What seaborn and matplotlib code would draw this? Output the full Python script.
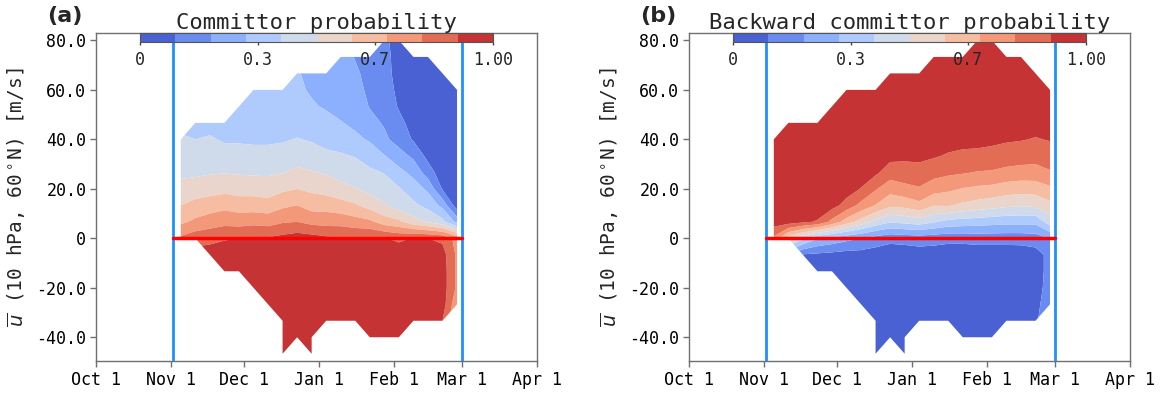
import numpy as np
import matplotlib
matplotlib.use("Agg")
import matplotlib.pyplot as plt
import seaborn as sns

# ---------------- data ----------------
# grid: days since Oct 1, zonal wind levels (m/s)
days = [35, 41, 47, 53, 59, 65, 71, 77, 83, 89, 95, 101, 107, 113, 119, 125, 131, 137, 143, 149]
u_levels = [-46.67, -40.0, -33.33, -26.67, -20.0, -13.33, -6.67, 0.0, 6.67, 13.33,
            20.0, 26.67, 33.33, 40.0, 46.67, 53.33, 60.0, 66.67, 73.33, 80.0]
# lowest sampled u level in each day column (values listed upward from it)
lowest_u = [0.0, 0.0, -6.67, -13.33, -13.33, -20.0, -26.67, -46.67, -40.0, -46.67,
            -33.33, -33.33, -33.33, -40.0, -40.0, -40.0, -33.33, -33.33, -33.33, -26.67]

# forward committor, one list per day column (bottom -> top)
forward_cols = [
    [0.82, 0.68, 0.60, 0.53, 0.48, 0.44, 0.41],
    [0.86, 0.72, 0.63, 0.55, 0.48, 0.43, 0.40, 0.37],
    [0.95, 0.87, 0.75, 0.65, 0.56, 0.49, 0.44, 0.41, 0.37],
    [0.98, 0.96, 0.89, 0.77, 0.67, 0.57, 0.495, 0.435, 0.39, 0.36],
    [0.98, 0.96, 0.90, 0.76, 0.65, 0.56, 0.49, 0.43, 0.39, 0.365, 0.35],
    [0.98, 0.98, 0.96, 0.91, 0.77, 0.65, 0.56, 0.485, 0.43, 0.385, 0.36, 0.345, 0.33],
    [0.99, 0.98, 0.98, 0.965, 0.91, 0.76, 0.64, 0.55, 0.485, 0.43, 0.385, 0.355, 0.335, 0.32],
    [0.99, 0.99, 0.99, 0.99, 0.98, 0.98, 0.97, 0.93, 0.79, 0.68, 0.58, 0.495, 0.44, 0.39, 0.355, 0.33, 0.315],
    [0.99, 0.99, 0.99, 0.98, 0.98, 0.975, 0.95, 0.80, 0.70, 0.60, 0.52, 0.46, 0.405, 0.36, 0.33, 0.315, 0.305],
    [0.99, 0.99, 0.99, 0.99, 0.98, 0.98, 0.97, 0.94, 0.77, 0.66, 0.58, 0.505, 0.45, 0.39, 0.35, 0.31, 0.29, 0.285],
    [0.99, 0.99, 0.98, 0.98, 0.97, 0.92, 0.76, 0.66, 0.56, 0.49, 0.42, 0.37, 0.33, 0.29, 0.27, 0.26],
    [0.99, 0.99, 0.98, 0.98, 0.97, 0.91, 0.76, 0.64, 0.53, 0.46, 0.41, 0.36, 0.305, 0.27, 0.26, 0.25, 0.24],
    [0.99, 0.99, 0.98, 0.98, 0.97, 0.90, 0.74, 0.61, 0.505, 0.45, 0.395, 0.32, 0.28, 0.25, 0.23, 0.215, 0.195],
    [0.99, 0.99, 0.99, 0.98, 0.98, 0.96, 0.91, 0.72, 0.56, 0.47, 0.42, 0.35, 0.29, 0.23, 0.195, 0.18, 0.17, 0.16],
    [0.99, 0.99, 0.99, 0.98, 0.98, 0.96, 0.905, 0.65, 0.51, 0.44, 0.395, 0.305, 0.22, 0.19, 0.17, 0.16, 0.15, 0.14, 0.13],
    [0.99, 0.99, 0.99, 0.98, 0.98, 0.96, 0.88, 0.62, 0.45, 0.41, 0.33, 0.24, 0.16, 0.13, 0.09, 0.07, 0.05, 0.05, 0.04],
    [0.99, 0.98, 0.98, 0.97, 0.96, 0.905, 0.54, 0.42, 0.35, 0.27, 0.18, 0.09, 0.06, 0.04, 0.03, 0.02, 0.02],
    [0.98, 0.98, 0.97, 0.97, 0.96, 0.90, 0.49, 0.37, 0.28, 0.15, 0.07, 0.05, 0.04, 0.03, 0.02, 0.02, 0.02],
    [0.90, 0.95, 0.95, 0.95, 0.94, 0.88, 0.43, 0.27, 0.09, 0.04, 0.03, 0.02, 0.02, 0.02, 0.02, 0.02],
    [0.72, 0.78, 0.78, 0.78, 0.76, 0.27, 0.04, 0.03, 0.02, 0.02, 0.02, 0.02, 0.02, 0.02],
]

# backward committor, one list per day column (bottom -> top)
backward_cols = [
    [0.78, 0.95, 0.98, 0.99, 0.99, 0.99, 0.99],
    [0.55, 0.95, 0.98, 0.99, 0.99, 0.99, 0.99, 0.99],
    [0.09, 0.42, 0.92, 0.97, 0.99, 0.99, 0.99, 0.99, 0.99],
    [0.03, 0.08, 0.31, 0.89, 0.97, 0.99, 0.99, 0.99, 0.99, 0.99],
    [0.03, 0.07, 0.27, 0.77, 0.94, 0.98, 0.99, 0.99, 0.99, 0.99, 0.99],
    [0.02, 0.03, 0.06, 0.23, 0.65, 0.86, 0.95, 0.98, 0.99, 0.99, 0.99, 0.99, 0.99],
    [0.02, 0.02, 0.03, 0.06, 0.20, 0.56, 0.77, 0.895, 0.96, 0.98, 0.99, 0.99, 0.99, 0.99],
    [0.02, 0.02, 0.02, 0.02, 0.02, 0.03, 0.05, 0.16, 0.47, 0.695, 0.81, 0.92, 0.97, 0.98, 0.99, 0.99, 0.99],
    [0.02, 0.02, 0.02, 0.02, 0.03, 0.04, 0.13, 0.41, 0.62, 0.74, 0.85, 0.93, 0.97, 0.98, 0.99, 0.99, 0.99],
    [0.02, 0.02, 0.02, 0.02, 0.02, 0.03, 0.04, 0.14, 0.43, 0.63, 0.77, 0.86, 0.92, 0.96, 0.98, 0.99, 0.99, 0.99],
    [0.02, 0.02, 0.02, 0.03, 0.05, 0.15, 0.45, 0.67, 0.79, 0.87, 0.92, 0.96, 0.98, 0.99, 0.99, 0.99],
    [0.02, 0.02, 0.02, 0.03, 0.05, 0.14, 0.41, 0.605, 0.74, 0.84, 0.91, 0.95, 0.97, 0.98, 0.99, 0.99, 0.99],
    [0.02, 0.02, 0.02, 0.03, 0.04, 0.13, 0.37, 0.61, 0.72, 0.82, 0.89, 0.94, 0.97, 0.98, 0.99, 0.99, 0.99],
    [0.02, 0.02, 0.02, 0.02, 0.03, 0.04, 0.13, 0.36, 0.58, 0.695, 0.81, 0.88, 0.93, 0.96, 0.98, 0.99, 0.99, 0.99],
    [0.02, 0.02, 0.02, 0.02, 0.03, 0.04, 0.14, 0.35, 0.56, 0.68, 0.795, 0.875, 0.93, 0.96, 0.98, 0.99, 0.99, 0.99, 0.99],
    [0.02, 0.02, 0.02, 0.02, 0.03, 0.04, 0.14, 0.34, 0.54, 0.67, 0.79, 0.87, 0.92, 0.95, 0.97, 0.98, 0.99, 0.99, 0.99],
    [0.02, 0.02, 0.02, 0.03, 0.04, 0.14, 0.33, 0.52, 0.65, 0.77, 0.86, 0.91, 0.95, 0.97, 0.98, 0.99, 0.99],
    [0.03, 0.03, 0.03, 0.03, 0.045, 0.14, 0.33, 0.51, 0.64, 0.76, 0.85, 0.905, 0.94, 0.96, 0.98, 0.99, 0.99],
    [0.08, 0.06, 0.06, 0.06, 0.06, 0.15, 0.33, 0.52, 0.645, 0.76, 0.84, 0.895, 0.93, 0.96, 0.98, 0.99],
    [0.18, 0.14, 0.13, 0.13, 0.205, 0.45, 0.57, 0.68, 0.79, 0.86, 0.905, 0.94, 0.96, 0.97],
]

month_ticks = [0, 31, 61, 92, 123, 151, 182]
month_labels = ["Oct 1", "Nov 1", "Dec 1", "Jan 1", "Feb 1", "Mar 1", "Apr 1"]
u_ticks = [-40, -20, 0, 20, 40, 60, 80]
u_tick_labels = ["-40.0", "-20.0", "0", "20.0", "40.0", "60.0", "80.0"]
cbar_ticks = [0, 1 / 3, 2 / 3, 1]
cbar_labels = ["0", "0.3", "0.7", "1.00"]
titles = ["Committor probability", "Backward committor probability"]
panel_tags = ["(a)", "(b)"]
season_start, season_end = 31.7, 151.0

# ---------------- style ----------------
sns.set_theme(style="white")
plt.rcParams["font.family"] = ["DejaVu Sans Mono"]
plt.rcParams["mathtext.fontset"] = "dejavusans"


def build_field(cols):
    ul = np.array(u_levels)
    Z = np.full((len(u_levels), len(days)), np.nan)
    for k, (lo, col) in enumerate(zip(lowest_u, cols)):
        j0 = int(np.argmin(np.abs(ul - lo)))
        Z[j0:j0 + len(col), k] = col
    return np.ma.masked_invalid(Z)


fig = plt.figure(figsize=(11.63, 3.96), dpi=100)
axes_pos = [[96 / 1163, 35 / 396, 441 / 1163, 328 / 396],
            [689 / 1163, 35 / 396, 441 / 1163, 328 / 396]]
levels = np.linspace(0, 1, 11)
spine_col = "#707070"

for i, cols in enumerate([forward_cols, backward_cols]):
    ax = fig.add_axes(axes_pos[i])
    Z = build_field(cols)
    cf = ax.contourf(days, u_levels, Z, levels=levels, cmap="coolwarm",
                     vmin=0, vmax=1, antialiased=True)
    ax.axvline(season_start, color="#1e90ff", lw=2, zorder=3)
    ax.axvline(season_end, color="#1e90ff", lw=2, zorder=3)
    sns.lineplot(x=[season_start, season_end], y=[0, 0], color="red", lw=2.5,
                 ax=ax, zorder=4)
    ax.set_xlim(0, 182)
    ax.set_ylim(-49.6, 83.0)
    ax.set_xticks(month_ticks)
    ax.set_xticklabels(month_labels, fontsize=12)
    ax.set_yticks(u_ticks)
    ax.set_yticklabels(u_tick_labels, fontsize=12)
    ax.tick_params(axis="both", which="both", direction="out", length=4,
                   width=1, color=spine_col, labelcolor="black", pad=3,
                   bottom=True, left=True, top=False, right=False)
    for s in ax.spines.values():
        s.set_color(spine_col)
        s.set_linewidth(1.0)
    ax.set_ylabel(r"$\overline{u}$ (10 hPa, 60$^\circ$N) [m/s]", fontsize=14,
                  labelpad=6)
    ax.set_title(titles[i], fontsize=16, pad=3)
    ax.text(-0.111, 1.02, panel_tags[i], transform=ax.transAxes,
            fontsize=16, family="DejaVu Sans", fontweight="bold",
            ha="left", va="bottom")

    cax = ax.inset_axes([0.1, 1 - 0.0274, 0.8, 0.0274])
    cb = fig.colorbar(cf, cax=cax, orientation="horizontal", ticks=cbar_ticks)
    cb.ax.set_xticklabels(cbar_labels, fontsize=12)
    cb.ax.tick_params(direction="out", length=2.5, width=1, color="#444444",
                      pad=4, bottom=True)
    cb.outline.set_edgecolor("#555555")
    cb.outline.set_linewidth(0.8)

fig.savefig("out.png", dpi=100)
